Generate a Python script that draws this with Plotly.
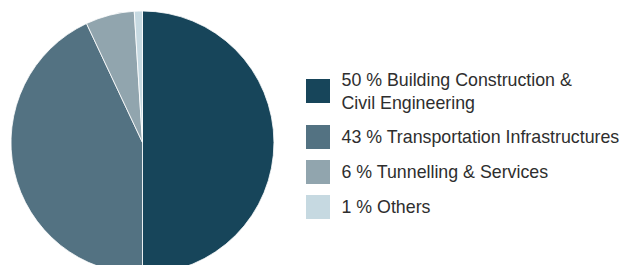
import plotly.graph_objects as go

# ---- data ----
categories = ["Building Construction &<br>Civil Engineering",
              "Transportation Infrastructures",
              "Tunnelling & Services",
              "Others"]
shares = [50, 43, 6, 1]
colors = ["#17455a", "#537282", "#91a5ae", "#c6d9e1"]

W, H = 626, 275

labels = [f"{v} % {c}" for v, c in zip(shares, categories)]

# legend row positions (pixel units of a helper axis), accounting for multi-line labels
row_y = []
y = 91.0
for lab in labels:
    row_y.append(y)
    y += 35 + 11 * lab.count("<br>")
text_y = [v + 2 for v in row_y]

fig = go.Figure()

fig.add_trace(go.Pie(
    values=shares,
    labels=categories,
    marker=dict(colors=colors, line=dict(color="white", width=0.8)),
    sort=False,
    direction="clockwise",
    rotation=0,
    textinfo="none",
    hoverinfo="label+percent",
    showlegend=False,
    domain=dict(x=[11 / W, 274 / W], y=[1 / H, 264 / H]),
))

# custom legend: squares
fig.add_trace(go.Scatter(
    x=[318] * len(labels), y=row_y,
    mode="markers",
    marker=dict(symbol="square", size=24, color=colors, line=dict(width=0)),
    showlegend=False, hoverinfo="skip", cliponaxis=False,
    xaxis="x", yaxis="y",
))
# custom legend: labels
fig.add_trace(go.Scatter(
    x=[341.5] * len(labels), y=text_y,
    mode="text", text=labels, textposition="middle right",
    textfont=dict(family="Liberation Sans, Arial, sans-serif", size=17.8, color="#2e2e2e"),
    showlegend=False, hoverinfo="skip", cliponaxis=False,
    xaxis="x", yaxis="y",
))

x0 = 290
fig.update_layout(
    width=W, height=H,
    margin=dict(l=0, r=0, t=0, b=0),
    paper_bgcolor="white", plot_bgcolor="rgba(0,0,0,0)",
    template="none",
    xaxis=dict(domain=[x0 / W, 1], range=[x0, W], visible=False, fixedrange=True),
    yaxis=dict(domain=[0, 1], range=[H, 0], visible=False, fixedrange=True),
    showlegend=False,
)

fig.write_html("out.html", config={"displayModeBar": False},
               post_script="document.body.style.margin='0';")
